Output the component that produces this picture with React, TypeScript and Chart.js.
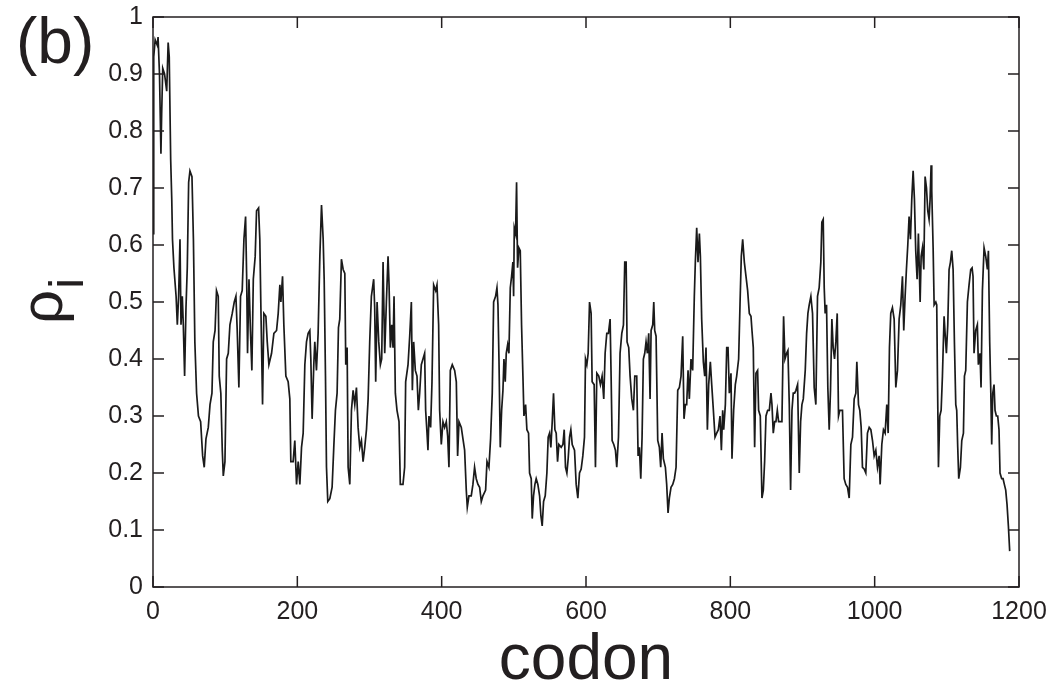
import React, { useEffect, useRef } from "react";
import { Chart, registerables } from "chart.js";

Chart.register(...registerables);

// [codon, rho_i], split into blocks
const block0: [number, number][] = [
  [0,0.62],[1,0.93],[3,0.96],[6,0.95],[7,0.965],[9,0.90],[11,0.76],[12,0.83],[13.5,0.91],[16,0.90],[19,0.87],[21,0.955],[22.5,0.93],[24.5,0.75],[26,0.68],[27,0.61],[29,0.56],[32,0.51],[33.7,0.46],[35.5,0.51],[37.4,0.61],[38.8,0.46],[40.6,0.51],[42,0.46],[43.8,0.37],[45.7,0.49],[47.5,0.56],[49.4,0.71],[51.2,0.73],[54,0.72],[56,0.61],[58,0.43],[60.4,0.34],[63,0.30],[66,0.29],[68.8,0.23],[71,0.21],[73.4,0.26],[76.6,0.28],[79,0.32],[81.7,0.34],[83.5,0.43],[86,0.45],[88,0.52],[90.4,0.51],[91.8,0.37],[94,0.34],[96,0.24],[97.4,0.195],[99.7,0.22],[102,0.40],[104.3,0.41],[106.6,0.46],[109.8,0.48],[112.6,0.50],[114.9,0.51],[116.7,0.45],[119,0.35],[121.3,0.51],[123.6,0.52],[126,0.61],[128.3,0.65],[129.7,0.55],[131,0.41],[133,0.54],[135,0.45],[137,0.38],[139,0.54],[141.6,0.58],[143.5,0.66],[146.3,0.665],[148,0.61]
];
const block150: [number, number][] = [
  [149.5,0.49],[151.8,0.32],[153.6,0.48],[156.4,0.475],[158.3,0.43],[160.6,0.39],[164.3,0.41],[167.5,0.445],[171.2,0.45],[173.5,0.48],[175.8,0.53],[177.2,0.50],[179.5,0.545],[181.3,0.46],[184.1,0.37],[187.3,0.36],[189.6,0.33],[191,0.22],[194.2,0.22],[196.5,0.257],[198.9,0.18],[201.2,0.22],[203.5,0.18],[205.8,0.245],[208.1,0.27],[210.4,0.39],[212.7,0.43],[215,0.445],[217.3,0.45],[218.7,0.40],[220.5,0.295],[222.8,0.39],[224.2,0.43],[226.5,0.38],[228.8,0.445],[231.2,0.58],[233.5,0.67],[235.8,0.61],[237.2,0.54],[239,0.37],[240.4,0.21],[242.2,0.15],[245,0.155],[248.2,0.175],[250.5,0.245],[252.8,0.31],[255.1,0.34],[257,0.455],[258.8,0.47],[261.1,0.575],[263.5,0.557],[265.8,0.55],[267.1,0.39],[269,0.42],[270.4,0.21],[272.7,0.18],[275,0.31],[277.3,0.345],[279.6,0.32],[281.9,0.35],[284.2,0.28],[286.5,0.245],[288.8,0.257],[291.1,0.22],[293.4,0.245],[295.8,0.276],[298.1,0.33]
];
const block300: [number, number][] = [
  [300.3,0.43],[302.6,0.51],[305.8,0.54],[307.2,0.49],[308.6,0.36],[310.5,0.50],[312.8,0.43],[315.1,0.39],[316.9,0.40],[318.8,0.57],[321.1,0.41],[323.4,0.50],[325.7,0.58],[327.1,0.53],[328.9,0.42],[330.8,0.46],[332.6,0.42],[334,0.51],[335.8,0.34],[338.1,0.31],[340.9,0.29],[342.7,0.18],[346.4,0.18],[348.7,0.21],[350.1,0.36],[353.4,0.39],[355.7,0.44],[358,0.50],[359.4,0.345],[361.2,0.43],[363.5,0.38],[365.8,0.37],[367.7,0.31],[369.5,0.34],[371.8,0.39],[374.1,0.40],[376.4,0.41],[377.8,0.31],[379.7,0.27],[381,0.24],[382.4,0.30],[384.7,0.28],[386.6,0.36],[388.9,0.53],[391.7,0.52],[393.5,0.53],[395.8,0.46],[397.2,0.31],[399.5,0.25],[401.8,0.29],[404.1,0.28],[406.4,0.29],[408.3,0.265],[410.1,0.21],[412,0.38],[414.7,0.39],[418,0.38],[420.3,0.36],[422.1,0.23],[424,0.29],[427.2,0.28],[429.5,0.26],[431.8,0.24],[434.1,0.17],[435.5,0.14],[437.8,0.16],[441,0.16],[443.3,0.18],[445.6,0.21],[447.9,0.19],[450.3,0.18]
];
const block450: [number, number][] = [
  [452.6,0.175],[454.9,0.15],[457.2,0.16],[460.9,0.17],[462.8,0.22],[465.5,0.21],[467.8,0.26],[470.1,0.34],[472,0.50],[474.7,0.51],[476.6,0.525],[478,0.495],[479.4,0.40],[481.2,0.245],[483.1,0.31],[484.9,0.345],[486.3,0.40],[488.1,0.36],[489.5,0.41],[491.4,0.425],[493.2,0.41],[495.1,0.525],[496.9,0.545],[498.7,0.57],[499.7,0.51],[500.6,0.63],[502.4,0.62],[503.8,0.71],[505.2,0.56],[507,0.595],[508.9,0.59],[510.7,0.46],[512.6,0.37],[514,0.30],[516.3,0.32],[518.1,0.276],[520.4,0.27],[521.8,0.20],[524.1,0.19],[525.5,0.12],[527.3,0.16],[529.2,0.18],[531,0.19],[533.3,0.18],[535.7,0.16],[537.5,0.125],[539.3,0.107],[541.2,0.15],[543.5,0.16],[545.8,0.20],[547.6,0.263],[549.5,0.27],[551.3,0.245],[553.2,0.29],[555,0.34],[556.9,0.276],[558.7,0.27],[560.6,0.22],[562.4,0.25],[565.6,0.245],[568,0.25],[569.8,0.276],[571.6,0.21],[573.5,0.20],[575.3,0.225],[577.2,0.263],[579,0.276],[580.9,0.25],[584.1,0.24],[586.4,0.18],[588.7,0.156],[591,0.20],[593.3,0.207],[595.6,0.23],[597.9,0.263],[599.3,0.40],[601.2,0.39],[603,0.41],[604.9,0.50]
];
const block600: [number, number][] = [
  [607.1,0.48],[608.5,0.36],[611.3,0.355],[613.1,0.21],[615,0.375],[617.7,0.37],[620,0.355],[622.3,0.37],[624.6,0.33],[626.5,0.41],[628.8,0.445],[631.1,0.445],[633.4,0.47],[634.8,0.37],[636.2,0.257],[638.5,0.25],[640.8,0.24],[642.6,0.21],[645,0.263],[647.2,0.41],[649.6,0.445],[651.9,0.46],[653.7,0.57],[655.6,0.57],[656.9,0.43],[659.2,0.42],[661.1,0.37],[663.4,0.33],[665.7,0.31],[667.6,0.37],[670.3,0.37],[672.2,0.23],[674,0.245],[675.9,0.19],[677.7,0.263],[679.5,0.40],[681.4,0.41],[683.2,0.43],[685.1,0.41],[686.9,0.445],[688.8,0.33],[690.2,0.45],[692.5,0.46],[693.9,0.50],[695.2,0.45],[697.1,0.44],[699.4,0.257],[701.7,0.245],[703.5,0.21],[705.4,0.27],[707.2,0.225],[710,0.21],[711.8,0.18],[713.7,0.13],[715.5,0.156],[717.8,0.175],[720.2,0.18],[722.5,0.19],[724.8,0.21],[727.1,0.345],[729.4,0.35],[731.7,0.37],[734,0.44],[735.8,0.295],[737.7,0.32],[739.5,0.32],[741.4,0.38],[743.2,0.33],[745.5,0.40],[747.8,0.38],[750.1,0.51],[751.5,0.57],[753.4,0.63],[755.2,0.57],[757.1,0.62]
];
const block750: [number, number][] = [
  [758.5,0.58],[760.3,0.47],[762.6,0.395],[764.5,0.37],[766.3,0.42],[768.2,0.276],[770,0.355],[772.3,0.395],[774.2,0.355],[776.5,0.31],[778.8,0.263],[781.1,0.27],[783.4,0.276],[785.7,0.30],[787.6,0.24],[789.4,0.31],[790.8,0.276],[793.1,0.32],[795,0.42],[796.8,0.42],[798.6,0.34],[800.9,0.375],[802.3,0.225],[804.6,0.31],[806.9,0.355],[808.8,0.37],[811.5,0.40],[813.4,0.495],[815.2,0.58],[817.1,0.61],[819.4,0.57],[821.7,0.545],[824,0.52],[826.3,0.48],[828.6,0.475],[830,0.45],[831.8,0.42],[833.7,0.245],[835.5,0.375],[837.8,0.38],[839.2,0.31],[841.5,0.30],[843.8,0.156],[845.7,0.17],[847.5,0.22],[849.4,0.30],[851.7,0.31],[854,0.31],[856.3,0.34],[857.7,0.32],[859.5,0.27],[861.4,0.29],[863.2,0.29],[865.1,0.31],[866.9,0.29],[869.2,0.29],[871.5,0.29],[873.8,0.475],[875.7,0.40],[878,0.41],[879.8,0.415],[881.7,0.32],[883.5,0.17],[885.4,0.31],[887.2,0.34],[889.1,0.34],[890.9,0.345],[893.2,0.355],[895.5,0.20],[897.4,0.29],[899.2,0.32],[901.1,0.33],[903.8,0.38],[905.7,0.445],[907.5,0.48]
];
const block900: [number, number][] = [
  [909.3,0.495],[911.6,0.51],[913.9,0.48],[916.2,0.35],[918.5,0.32],[920.8,0.51],[923.1,0.525],[925.4,0.57],[926.8,0.64],[928.7,0.645],[930.1,0.525],[931.4,0.48],[933.3,0.495],[935.1,0.35],[937,0.276],[938.8,0.345],[940.7,0.47],[942.5,0.42],[944.4,0.40],[946.2,0.43],[948.1,0.48],[949.9,0.30],[951.7,0.31],[953.6,0.31],[955.4,0.31],[957.7,0.19],[960,0.18],[962.4,0.175],[964.7,0.156],[967,0.25],[969.3,0.263],[971.6,0.33],[973.9,0.34],[975.3,0.395],[977.6,0.32],[979.4,0.31],[981.3,0.28],[983.1,0.21],[985.4,0.207],[987.7,0.20],[990,0.27],[992.4,0.28],[994.7,0.276],[997,0.257],[999.3,0.23],[1001.6,0.24],[1003.9,0.21],[1006.2,0.23],[1007.6,0.18],[1009.9,0.25],[1012.2,0.276],[1014.5,0.27],[1016.8,0.32],[1018.7,0.27],[1020.5,0.42],[1022.3,0.48],[1024.6,0.49],[1027,0.47],[1029.3,0.35],[1031.6,0.38],[1033.9,0.47],[1036.2,0.495],[1038.5,0.545],[1040.3,0.45],[1042.2,0.51],[1044,0.557],[1045.9,0.60],[1047.7,0.65],[1049.6,0.61],[1051.4,0.68],[1053.3,0.73],[1055.1,0.68],[1056.9,0.59],[1058.8,0.54],[1060.6,0.62]
];
const block1050: [number, number][] = [
  [1063,0.50],[1064.4,0.58],[1066.2,0.595],[1068.1,0.557],[1069.9,0.72],[1071.8,0.70],[1073.6,0.66],[1075.4,0.645],[1076.8,0.68],[1078.2,0.74],[1079.1,0.695],[1081,0.595],[1082.4,0.495],[1084.7,0.50],[1086,0.495],[1087,0.37],[1088.4,0.21],[1090.2,0.30],[1092.1,0.31],[1093.9,0.37],[1096.2,0.475],[1097.6,0.445],[1099.4,0.41],[1101.3,0.46],[1103.1,0.557],[1105,0.57],[1106.8,0.59],[1108.7,0.557],[1110.5,0.43],[1112.4,0.32],[1113.7,0.31],[1115.1,0.245],[1116.5,0.19],[1118.8,0.21],[1120.7,0.257],[1123,0.27],[1124.4,0.37],[1126.2,0.38],[1128.5,0.50],[1130.8,0.53],[1133.1,0.557],[1135,0.56],[1136.3,0.545],[1137.7,0.41],[1140,0.45],[1142.3,0.46],[1143.7,0.39],[1146,0.41],[1147.4,0.35],[1149.3,0.52],[1151.6,0.595],[1153.9,0.58],[1156.2,0.557],[1157.6,0.59],[1159.4,0.43],[1160.8,0.35],[1162.2,0.25],[1163.6,0.34],[1165.4,0.355],[1166.8,0.31],[1168.6,0.30],[1170.5,0.30],[1172.3,0.276],[1173.7,0.20],[1176,0.19],[1177.9,0.19],[1179.7,0.18],[1181.6,0.17],[1183.4,0.145],[1185.3,0.107],[1187.1,0.063]
];

const xTicks = [0, 200, 400, 600, 800, 1000, 1200];
const yTicks = [0, 0.1, 0.2, 0.3, 0.4, 0.5, 0.6, 0.7, 0.8, 0.9, 1];
const panelLabel = "(b)";
const xTitle = "codon";
const yTitleMain = "ρ";
const yTitleSub = "i";

const FONT = '"Liberation Sans", Arial, Helvetica, sans-serif';
const INK = "#231f20";

const framePlugin = {
  id: "frameAndLabels",
  afterDraw(chart: any) {
    const { ctx, chartArea, scales } = chart;
    const { left, right, top, bottom } = chartArea;
    ctx.save();
    ctx.strokeStyle = INK;
    ctx.lineWidth = 1.5;
    ctx.strokeRect(left, top, right - left, bottom - top);
    const tl = 11;
    ctx.beginPath();
    for (const v of yTicks) {
      const y = scales.y.getPixelForValue(v);
      ctx.moveTo(left, y); ctx.lineTo(left + tl, y);
      ctx.moveTo(right, y); ctx.lineTo(right - tl, y);
    }
    for (const v of xTicks) {
      const x = scales.x.getPixelForValue(v);
      ctx.moveTo(x, bottom); ctx.lineTo(x, bottom - tl);
      ctx.moveTo(x, top); ctx.lineTo(x, top + tl);
    }
    ctx.stroke();

    ctx.fillStyle = INK;
    ctx.textBaseline = "alphabetic";
    // panel label
    ctx.textAlign = "left";
    ctx.font = `64px ${FONT}`;
    ctx.fillText(panelLabel, 16, 63);
    // x title
    ctx.textAlign = "center";
    ctx.font = `64px ${FONT}`;
    ctx.fillText(xTitle, (left + right) / 2, 679);
    // y title rotated
    ctx.save();
    ctx.translate(62, 324);
    ctx.rotate(-Math.PI / 2);
    ctx.textAlign = "left";
    ctx.font = `60px ${FONT}`;
    ctx.fillText(yTitleMain, 0, 0);
    const w = ctx.measureText(yTitleMain).width;
    ctx.font = `48px ${FONT}`;
    ctx.fillText(yTitleSub, w + 1, 21);
    ctx.restore();
    ctx.restore();
  },
};

export default function App() {
  const ref = useRef<HTMLCanvasElement | null>(null);
  useEffect(() => {
    if (!ref.current) return;
    const pts = [
      ...block0, ...block150, ...block300, ...block450,
      ...block600, ...block750, ...block900, ...block1050,
    ].map(([x, y]) => ({ x, y }));
    const chart = new Chart(ref.current, {
      type: "line",
      data: {
        datasets: [
          {
            data: pts,
            borderColor: "#1a1a1a",
            borderWidth: 1.7,
            pointRadius: 0,
            tension: 0,
            fill: false,
          },
        ],
      },
      options: {
        animation: false,
        responsive: false,
        maintainAspectRatio: false,
        layout: { padding: { left: 0, right: 36, top: 17, bottom: 0 } },
        plugins: { legend: { display: false }, tooltip: { enabled: false } },
        scales: {
          x: {
            type: "linear",
            min: 0,
            max: 1200,
            afterBuildTicks: (s: any) => {
              s.ticks = xTicks.map((v) => ({ value: v }));
            },
            afterFit: (s: any) => {
              s.height = 96;
            },
            grid: { display: false },
            border: { display: false },
            ticks: {
              font: { family: FONT, size: 25 },
              color: INK,
              padding: 2,
              maxRotation: 0,
              autoSkip: false,
              callback: (v: any) => String(v),
            },
          },
          y: {
            type: "linear",
            min: 0,
            max: 1,
            afterBuildTicks: (s: any) => {
              s.ticks = yTicks.map((v) => ({ value: v }));
            },
            afterFit: (s: any) => {
              s.width = 153;
            },
            grid: { display: false },
            border: { display: false },
            ticks: {
              font: { family: FONT, size: 25 },
              color: INK,
              padding: 2,
              autoSkip: false,
              callback: (v: any) =>
                v === 0 ? "0" : v === 1 ? "1" : Number(v).toFixed(1),
            },
          },
        },
      },
      plugins: [framePlugin],
    });
    return () => chart.destroy();
  }, []);
  return (
    <div style={{ position: "absolute", left: 0, top: 0, width: 1055, height: 683, background: "#fff" }}>
      <canvas ref={ref} width={1055} height={683} style={{ display: "block" }} />
    </div>
  );
}
